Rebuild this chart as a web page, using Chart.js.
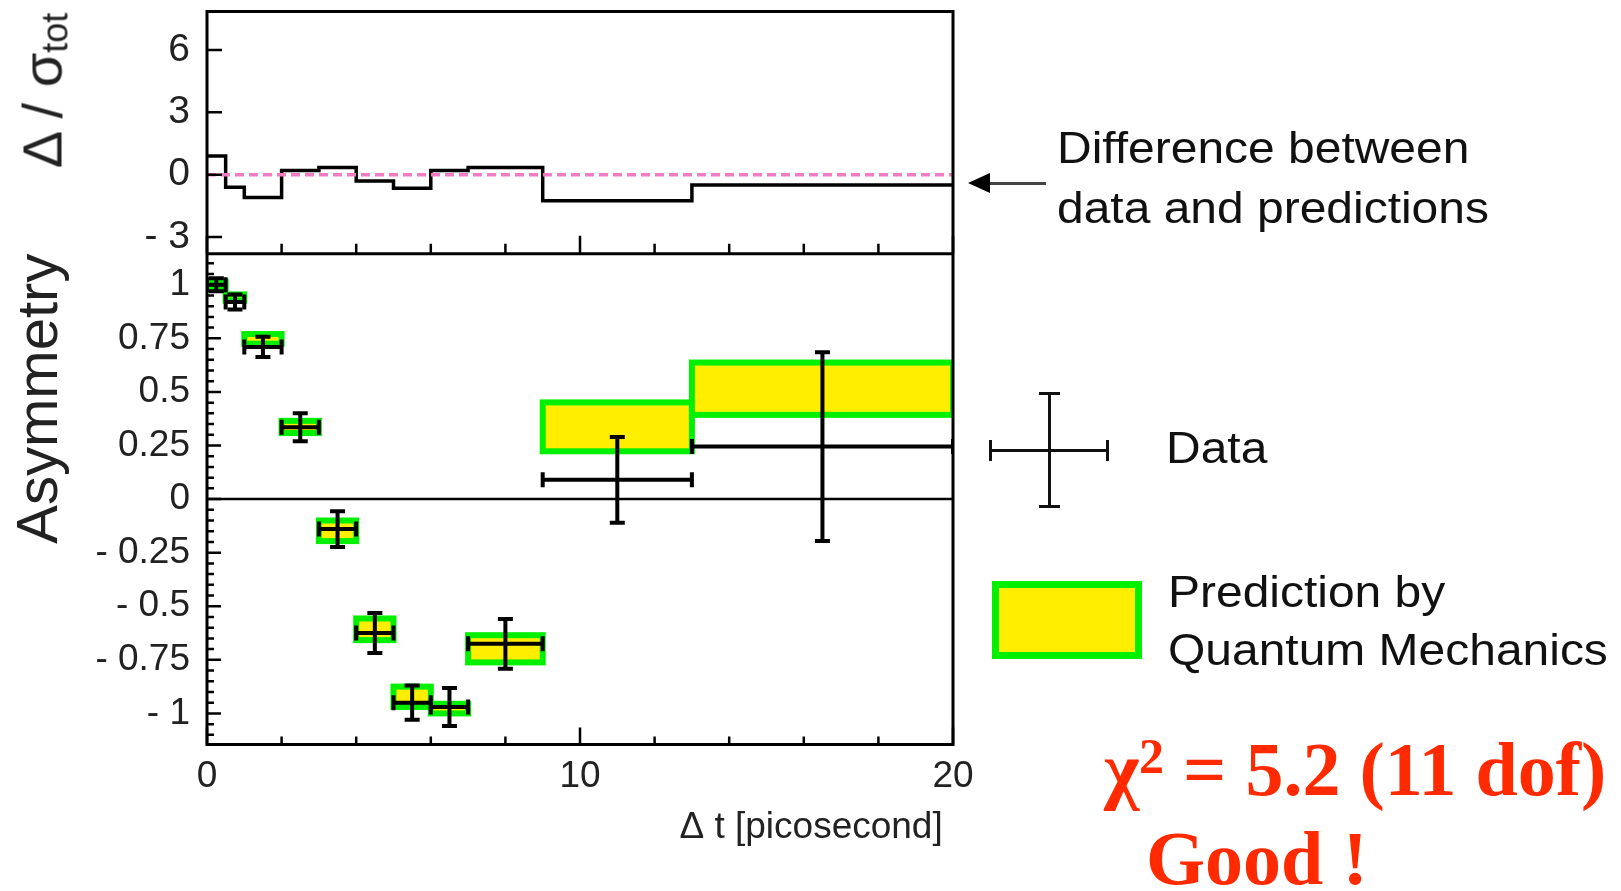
<!DOCTYPE html>
<html>
<head>
<meta charset="utf-8">
<script src="https://cdn.jsdelivr.net/npm/chart.js@4.4.1/dist/chart.umd.min.js"></script>
<style>
  body { margin: 0; background: #fff; }
  #wrap { position: relative; width: 1621px; height: 891px; overflow: hidden; font-family: 'Liberation Sans', Arial, sans-serif; color: #111; }
  canvas { position: absolute; left: 0; top: 0; }
  .txt { position: absolute; font-size: 44px; line-height: 53px; height: 53px; white-space: nowrap; transform: scaleX(1.09); transform-origin: 0 50%; }
  .red { position: absolute; font-family: 'Liberation Serif', 'Times New Roman', serif; font-weight: bold; font-size: 76px; line-height: 91px; color: #ff2a00; white-space: nowrap; }
  .red sup { font-size: 50px; vertical-align: 22px; line-height: 0; }
  .bar { position: absolute; background: #111; }
  #ytitle { position: absolute; left: -58px; top: 57px; width: 200px; height: 67px; line-height: 67px; text-align: center; font-size: 56px; color: #222; transform: rotate(-90deg); white-space: nowrap; }
  #ytitle sub { font-size: 36px; vertical-align: -6px; line-height: 0; }
</style>
</head>
<body>
<div id="wrap">
  <canvas id="c" width="1621" height="891"></canvas>

  <div id="ytitle">Δ / σ<sub>tot</sub></div>

  <!-- arrow to the difference panel -->
  <div class="bar" style="left:986px;top:182px;width:60px;height:3px;background:#444"></div>
  <div style="position:absolute;left:968px;top:173px;width:0;height:0;border-top:10px solid transparent;border-bottom:10px solid transparent;border-right:22px solid #000"></div>
  <div class="txt" style="left:1057px;top:121px">Difference between</div>
  <div class="txt" style="left:1057px;top:181px">data and predictions</div>

  <!-- data legend cross -->
  <div class="bar" style="left:990px;top:449px;width:118px;height:3px"></div>
  <div class="bar" style="left:1048px;top:393px;width:3px;height:114px"></div>
  <div class="bar" style="left:989px;top:440px;width:3px;height:21px"></div>
  <div class="bar" style="left:1106px;top:440px;width:3px;height:21px"></div>
  <div class="bar" style="left:1039px;top:392px;width:21px;height:3px"></div>
  <div class="bar" style="left:1039px;top:505px;width:21px;height:3px"></div>
  <div class="txt" style="left:1166px;top:421px">Data</div>

  <!-- prediction legend box -->
  <div style="position:absolute;left:992px;top:581px;width:150px;height:78px;box-sizing:border-box;border:7px solid #00f000;background:#ffee00"></div>
  <div class="txt" style="left:1168px;top:565px">Prediction by</div>
  <div class="txt" style="left:1168px;top:623px">Quantum Mechanics</div>

  <div class="red" style="left:1104px;top:724px">χ<sup>2</sup> = 5.2 (11 dof)</div>
  <div class="red" style="left:1146px;top:813px">Good !</div>
</div>

<script>
// Δt bins [picosecond]
const binLo = [0, 0.5, 1, 2, 3, 4, 5, 6, 7, 9, 13];
const binHi = [0.5, 1, 2, 3, 4, 5, 6, 7, 9, 13, 20];
const binMid = [0.25, 0.75, 1.5, 2.5, 3.5, 4.5, 5.5, 6.5, 8, 11, 16.5];

// upper panel: difference between data and prediction, in units of sigma_tot
const diffVals = [0.9, -0.6, -1.1, 0.2, 0.35, -0.3, -0.65, 0.2, 0.35, -1.25, -0.5];

// lower panel: measured asymmetry and its error
const asymVals = [1.0, 0.92, 0.71, 0.335, -0.14, -0.625, -0.95, -0.97, -0.675, 0.09, 0.245];
const asymErr = [0.03, 0.035, 0.047, 0.065, 0.083, 0.093, 0.08, 0.089, 0.116, 0.2, 0.44];

// quantum mechanics prediction band (low / high edge per bin)
const qmLo = [0.985, 0.925, 0.725, 0.308, -0.196, -0.658, -0.97, -1.0, -0.762, 0.223, 0.393];
const qmHi = [1.015, 0.955, 0.77, 0.365, -0.1, -0.557, -0.875, -0.955, -0.635, 0.451, 0.637];

const tRange = [0, 20];
const diffRange = [-3.8, 7.85];
const asymRange = [-1.145, 1.145];

const GREEN = '#00f000', YELLOW = '#ffee00';

// step histogram: one point per lower bin edge, closed at the last upper edge
const histPts = binLo.map((t, i) => ({ x: t, y: diffVals[i] }));
histPts.push({ x: binHi[binHi.length - 1], y: diffVals[diffVals.length - 1] });

// error bars: horizontal segment, gap, vertical segment, gap
const errPts = [];
binMid.forEach((t, i) => {
  const v = asymVals[i], e = asymErr[i];
  errPts.push({ x: binLo[i], y: v }, { x: binHi[i], y: v }, { x: t, y: null },
              { x: t, y: v - e }, { x: t, y: v + e }, { x: t, y: null });
});

const zeroLine = tRange.map(x => ({ x, y: 0 }));

const isMult = (v, s) => Math.abs(v / s - Math.round(v / s)) < 1e-6;
const fmtTick = v => {
  const a = Math.round(Math.abs(v) * 100) / 100;
  return (v < -1e-9 ? '- ' : '') + String(a);
};

// yellow/green prediction boxes, drawn under the data
const qmBoxes = {
  id: 'qmBoxes',
  beforeDatasetsDraw(chart) {
    const { ctx, chartArea: a, scales: { x, yBot } } = chart;
    ctx.save();
    ctx.beginPath();
    ctx.rect(a.left, a.top, a.right - a.left, a.bottom - a.top);
    ctx.clip();
    ctx.lineWidth = 6;
    ctx.strokeStyle = GREEN;
    ctx.fillStyle = YELLOW;
    binLo.forEach((lo, i) => {
      const x0 = x.getPixelForValue(lo), x1 = x.getPixelForValue(binHi[i]);
      const y0 = yBot.getPixelForValue(qmHi[i]), y1 = yBot.getPixelForValue(qmLo[i]);
      ctx.fillRect(x0, y0, x1 - x0, y1 - y0);
      ctx.strokeRect(x0, y0, x1 - x0, y1 - y0);
    });
    ctx.restore();
  }
};

// ROOT style frame with inward ticks
const rootFrame = {
  id: 'rootFrame',
  afterDatasetsDraw(chart) {
    const { ctx, chartArea: a, scales: { x, yTop, yBot } } = chart;
    ctx.save();
    ctx.strokeStyle = '#000';
    ctx.lineWidth = 2.5;
    ctx.beginPath();
    x.ticks.forEach(t => {
      const px = x.getPixelForValue(t.value);
      const major = isMult(t.value, 10);
      ctx.moveTo(px, a.bottom); ctx.lineTo(px, a.bottom - (major ? 17 : 8));
      ctx.moveTo(px, yBot.top); ctx.lineTo(px, yBot.top - (major ? 18 : 10));
    });
    yBot.ticks.forEach(t => {
      const py = yBot.getPixelForValue(t.value);
      ctx.moveTo(a.left, py); ctx.lineTo(a.left + (isMult(t.value, 0.25) ? 14 : 7), py);
    });
    yTop.ticks.forEach(t => {
      const py = yTop.getPixelForValue(t.value);
      ctx.moveTo(a.left, py); ctx.lineTo(a.left + 15, py);
    });
    ctx.stroke();
    ctx.lineWidth = 3;
    ctx.strokeRect(a.left, a.top, a.right - a.left, a.bottom - a.top);
    ctx.beginPath();
    ctx.moveTo(a.left, yBot.top); ctx.lineTo(a.right, yBot.top);
    ctx.stroke();
    ctx.restore();
  }
};

const fixLeft = s => { s.width = 207; s.paddingTop = 0; s.paddingBottom = 0; };
const fontFam = "'Liberation Sans', Arial, sans-serif";
Chart.defaults.font.family = fontFam;
Chart.defaults.color = '#222';

new Chart(document.getElementById('c'), {
  type: 'scatter',
  data: {
    datasets: [
      { type: 'line', data: zeroLine, yAxisID: 'yTop', borderColor: '#f27cc4', borderWidth: 3.5, borderDash: [9, 5], pointRadius: 0 },
      { type: 'line', data: histPts, yAxisID: 'yTop', stepped: 'before', borderColor: '#000', borderWidth: 3.5, pointRadius: 0 },
      { type: 'line', data: zeroLine, yAxisID: 'yBot', borderColor: '#000', borderWidth: 2.5, pointRadius: 0 },
      {
        type: 'line', data: errPts, yAxisID: 'yBot', spanGaps: false,
        borderColor: '#000', borderWidth: 4,
        pointStyle: 'line', pointRadius: 7.5, pointBorderWidth: 4,
        pointBorderColor: '#000', pointBackgroundColor: '#000',
        pointRotation: c => (c.dataIndex % 6 < 2 ? 90 : 0)
      }
    ]
  },
  options: {
    responsive: false,
    animation: false,
    events: [],
    layout: { padding: { left: 0, right: 668, top: 9, bottom: 0 } },
    plugins: { legend: { display: false }, tooltip: { enabled: false } },
    scales: {
      x: {
        type: 'linear', min: tRange[0], max: tRange[1],
        grid: { display: false, drawTicks: false }, border: { display: false },
        ticks: { stepSize: 2, includeBounds: false, autoSkip: false, maxRotation: 0, padding: 10,
                 font: { size: 37 }, callback: v => (isMult(v, 10) ? String(v) : '') },
        title: { display: true, text: 'Δ t [picosecond] ', align: 'end', font: { size: 37 }, padding: { top: 0, bottom: 41 } },
        afterFit: s => { s.height = 146.5; }
      },
      yBot: {
        type: 'linear', position: 'left', stack: 'panels', stackWeight: 492.5,
        min: asymRange[0], max: asymRange[1],
        grid: { display: false, drawTicks: false }, border: { display: false },
        ticks: { stepSize: 0.05, includeBounds: false, autoSkip: false, padding: 17,
                 font: { size: 37 }, callback: v => (isMult(v, 0.25) ? fmtTick(v) : '') },
        title: { display: true, text: 'Asymmetry', align: 'end', font: { size: 58 }, padding: { top: 6, bottom: 0 } },
        afterFit: fixLeft
      },
      yTop: {
        type: 'linear', position: 'left', stack: 'panels', stackWeight: 243,
        min: diffRange[0], max: diffRange[1],
        grid: { display: false, drawTicks: false }, border: { display: false },
        ticks: { stepSize: 3, includeBounds: false, autoSkip: false, padding: 17,
                 font: { size: 39 }, callback: v => fmtTick(v) },
        afterFit: fixLeft
      }
    }
  },
  plugins: [qmBoxes, rootFrame]
});
</script>
</body>
</html>
